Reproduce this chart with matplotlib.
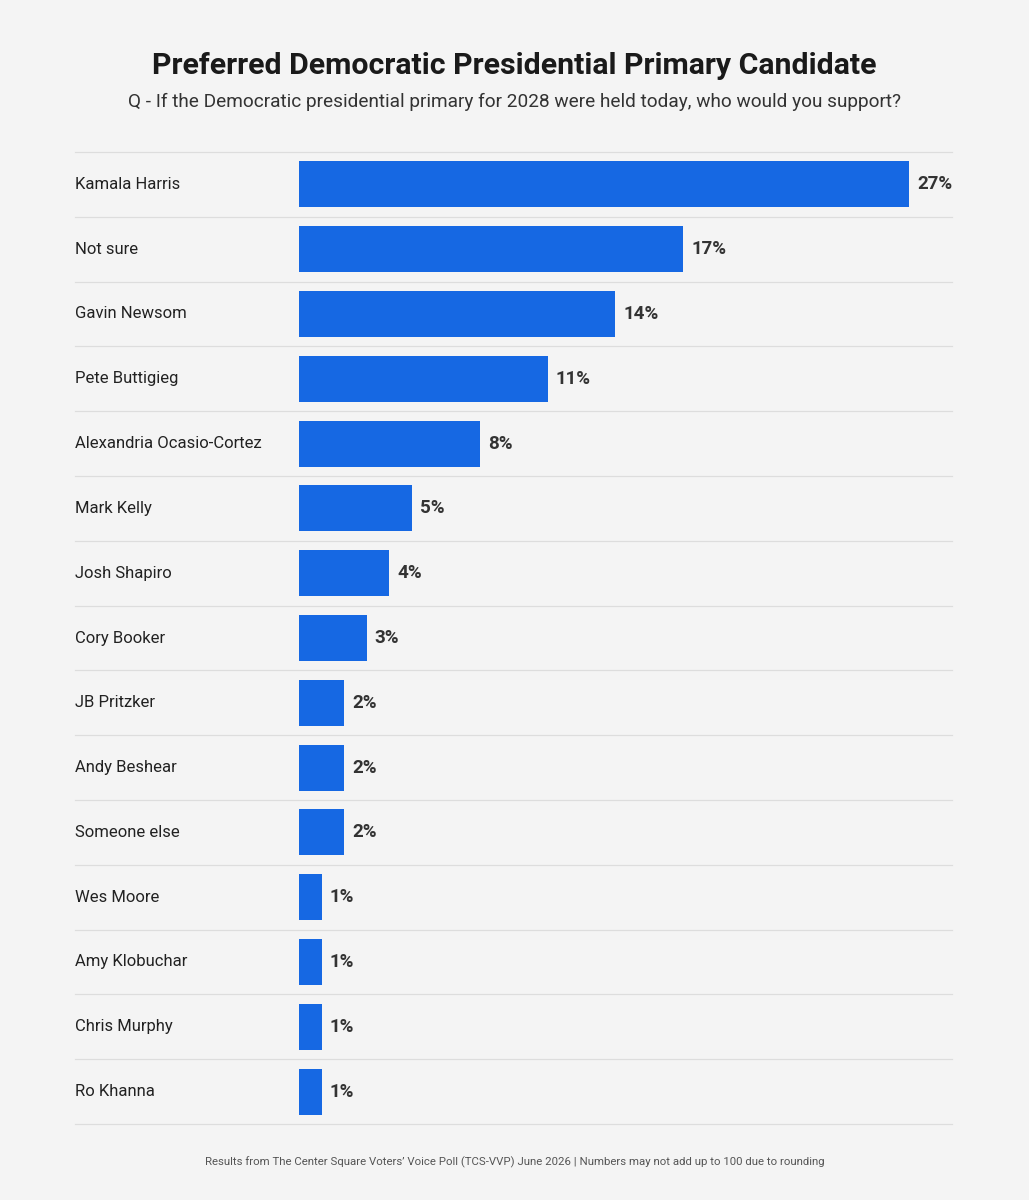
import matplotlib.pyplot as plt

plt.rcParams['font.family'] = ['Roboto', 'DejaVu Sans']

candidates = ["Kamala Harris", "Not sure", "Gavin Newsom", "Pete Buttigieg",
              "Alexandria Ocasio-Cortez", "Mark Kelly", "Josh Shapiro", "Cory Booker",
              "JB Pritzker", "Andy Beshear", "Someone else", "Wes Moore",
              "Amy Klobuchar", "Chris Murphy", "Ro Khanna"]
support = [27, 17, 14, 11, 8, 5, 4, 3, 2, 2, 2, 1, 1, 1, 1]

bg = "#f4f4f4"
bar_color = "#1668e3"

fig = plt.figure(figsize=(10.29, 12), dpi=100, facecolor=bg)
ax = fig.add_axes([299 / 1029, 1 - 1124 / 1200, 653 / 1029, 972 / 1200])
ax.set_facecolor(bg)

n = len(candidates)
ypos = list(range(n))
ax.barh(ypos, support, height=0.71, color=bar_color)
ax.set_ylim(n - 0.5, -0.5)
ax.set_xlim(0, 653 / 22.6)
ax.axis("off")

# label offset in axes coords for left text
left_x = (75 - 299) / 653
for i, (name, v) in enumerate(zip(candidates, support)):
    ax.text(left_x, i, name, transform=ax.get_yaxis_transform(), ha="left",
            va="center", fontsize=12, color="#222222")
    ax.text(v + 0.35, i, f"{v}%", ha="left", va="center", fontsize=13.5,
            fontweight="bold", color="#333333")

for b in [i - 0.5 for i in range(n + 1)]:
    ax.plot([left_x, 1], [b, b], transform=ax.get_yaxis_transform(),
            color="#dddddd", lw=0.9, clip_on=False)

fig.text(0.5, 1 - 66 / 1200, "Preferred Democratic Presidential Primary Candidate",
         ha="center", va="center", fontsize=21.8, fontweight="bold", color="#1a1a1a")
fig.text(0.5, 1 - 102 / 1200,
         "Q - If the Democratic presidential primary for 2028 were held today, who would you support?",
         ha="center", va="center", fontsize=13.7, color="#333333")
fig.text(0.5, 1 - 1162 / 1200,
         "Results from The Center Square Voters\u2019 Voice Poll (TCS-VVP) June 2026 | Numbers may not add up to 100 due to rounding",
         ha="center", va="center", fontsize=8.2, color="#555555")

fig.savefig("out.png", dpi=100, facecolor=bg)
